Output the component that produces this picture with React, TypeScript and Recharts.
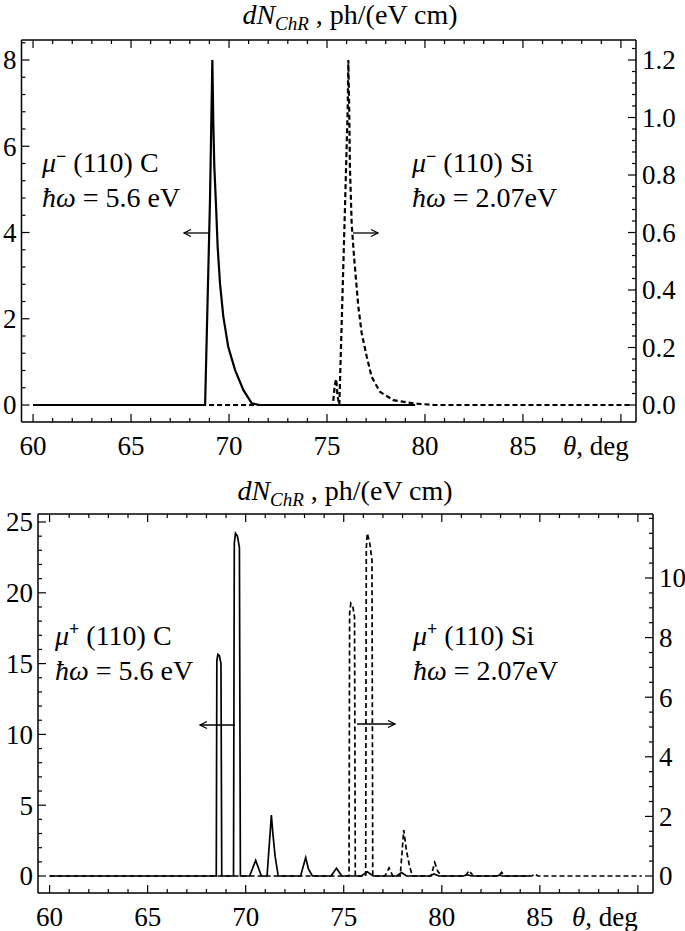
import React from 'react';
import { LineChart, Line, XAxis, YAxis } from 'recharts';

// ─── Data: top panel, mu- (110) ───────────────────────────────────────────────

// C, hw = 5.6 eV (left axis)
const muMinusC_theta = [60, 68.78, 69.03, 69.15, 69.2, 69.25, 69.34, 69.42, 69.54, 69.71, 69.96, 70.31, 70.73, 71.16, 71.58, 79.5];
const muMinusC_dN = [0, 0, 4.76, 8.0, 6.54, 5.53, 4.6, 3.67, 2.82, 2.05, 1.35, 0.81, 0.35, 0.04, 0, 0];

// Si, hw = 2.07 eV (right axis)
const muMinusSi_theta = [60, 75.3, 75.4, 75.47, 75.54, 75.6, 75.63, 75.92, 76.06, 76.09, 76.14, 76.17, 76.26, 76.38, 76.6, 76.77, 77.03, 77.28, 77.7, 78.38, 79.5, 80.5, 90.5];
const muMinusSi_dN = [0, 0, 0.07, 0.09, 0.03, 0.01, 0, 0.69, 1.04, 1.2, 1.0, 0.83, 0.63, 0.516, 0.342, 0.25, 0.168, 0.098, 0.046, 0.017, 0.005, 0, 0];

// ─── Data: bottom panel, mu+ (110) ────────────────────────────────────────────

const muPlusC_theta = [
    60, 68.5, 68.53, 68.58, 68.66, 68.74, 68.78, 69.38, 69.42, 69.48, 69.58, 69.68, 69.73,
    70.2, 70.51, 70.8, 71.09, 71.31, 71.38, 71.5, 71.66, 72.8, 73.06, 73.2, 73.4, 74.35, 74.63, 74.9,
    75.9, 76.2, 76.5, 77.7, 77.95, 78.2, 79.4, 79.6, 79.85, 81.1, 81.3, 81.5, 82.8, 82.95, 83.1, 84.5,
];
const muPlusC_dN = [
    0, 0, 15.2, 15.65, 15.55, 15.0, 0, 0, 23.5, 24.2, 24.0, 23.2, 0,
    0, 1.1, 0, 0, 4.3, 3.1, 1.4, 0, 0, 1.3, 0.5, 0, 0, 0.55, 0,
    0, 0.3, 0, 0, 0.25, 0, 0, 0.15, 0, 0, 0.1, 0, 0, 0.06, 0, 0,
];

const muPlusSi_theta = [
    60, 75.27, 75.3, 75.36, 75.46, 75.55, 75.59, 76.12, 76.15, 76.2, 76.32, 76.44, 76.48,
    77.1, 77.31, 77.5, 77.88, 78.06, 78.2, 78.35, 78.5, 79.45, 79.64, 79.8, 80.0,
    81.2, 81.39, 81.6, 82.9, 83.05, 83.2, 84.6, 84.74, 84.9, 90.2,
];
const muPlusSi_dN = [
    0, 0, 8.8, 9.15, 9.05, 8.7, 0, 0, 11.0, 11.5, 11.2, 10.6, 0,
    0, 0.27, 0, 0, 1.54, 0.85, 0.35, 0, 0, 0.45, 0.15, 0,
    0, 0.18, 0, 0, 0.12, 0, 0, 0.07, 0, 0,
];

// ─── Axes ─────────────────────────────────────────────────────────────────────

const thetaDomain: [number, number] = [59.41, 90.77];
const thetaLabels = [60, 65, 70, 75, 80, 85];
const thetaMajor = [60, 65, 70, 75, 80, 85, 90];

const topLeftMajor = [0, 2, 4, 6, 8];
const topRightMajor = [0, 0.2, 0.4, 0.6, 0.8, 1.0, 1.2];
const botLeftMajor = [0, 5, 10, 15, 20, 25];
const botRightMajor = [0, 2, 4, 6, 8, 10];

const topLeftDomain: [number, number] = [-0.394, 8.464];
const topRightDomain: [number, number] = [-0.0591, 1.2696];
const botLeftDomain: [number, number] = [-1.2, 25.565];
const botRightDomain: [number, number] = [-0.5705, 12.148];

const steps = (from: number, to: number, step: number) => {
    const out: number[] = [];
    for (let i = 0; from + i * step <= to + 1e-9; i++) out.push(Math.round((from + i * step) * 1000) / 1000);
    return out;
};

const zip = (t: number[], v: number[]) => t.map((x, i) => ({ theta: x, v: v[i] }));

const FONT = 'Liberation Serif';
const serif: React.CSSProperties = { fontFamily: FONT };
const isIn = (arr: number[], v: number) => arr.some((m) => Math.abs(m - v) < 1e-6);

// ─── Tick renderers (Mathematica-style inward ticks) ──────────────────────────

const bottomTick = (p: any) => {
    const v = p.payload.value;
    const major = isIn(thetaMajor, v);
    return (
        <g>
            <line x1={p.x} x2={p.x} y1={p.y} y2={p.y - (major ? 8 : 4)} stroke="#000" strokeWidth={1.2} />
            {isIn(thetaLabels, v) && (
                <text x={p.x} y={p.y + 33} textAnchor="middle" fontSize={27} style={serif} fill="#000">
                    {v}
                </text>
            )}
        </g>
    );
};

const topTick = (p: any) => {
    const major = isIn(thetaMajor, p.payload.value);
    return <line x1={p.x} x2={p.x} y1={p.y} y2={p.y + (major ? 8 : 4)} stroke="#000" strokeWidth={1.2} />;
};

const leftTick = (majors: number[], fmt: (v: number) => string) => (p: any) => {
    const v = p.payload.value;
    const major = isIn(majors, v);
    return (
        <g>
            <line x1={p.x} x2={p.x + (major ? 8 : 4)} y1={p.y} y2={p.y} stroke="#000" strokeWidth={1.2} />
            {major && (
                <text x={p.x - 5} y={p.y} dy="0.35em" textAnchor="end" fontSize={27} style={serif} fill="#000">
                    {fmt(v)}
                </text>
            )}
        </g>
    );
};

const rightTick = (majors: number[], fmt: (v: number) => string) => (p: any) => {
    const v = p.payload.value;
    const major = isIn(majors, v);
    return (
        <g>
            <line x1={p.x} x2={p.x - (major ? 8 : 4)} y1={p.y} y2={p.y} stroke="#000" strokeWidth={1.2} />
            {major && (
                <text x={p.x + 6} y={p.y} dy="0.35em" textAnchor="start" fontSize={27} style={serif} fill="#000">
                    {fmt(v)}
                </text>
            )}
        </g>
    );
};

const axisLine = { stroke: '#000', strokeWidth: 1.5 };

// ─── Panel ────────────────────────────────────────────────────────────────────

interface PanelProps {
    top: number;
    height: number;
    topH: number;
    bottomH: number;
    leftW: number;
    rightW: number;
    leftDomain: [number, number];
    rightDomain: [number, number];
    leftTicks: number[];
    rightTicks: number[];
    leftMajor: number[];
    rightMajor: number[];
    rightFmt: (v: number) => string;
    cData: { theta: number; v: number }[];
    siData: { theta: number; v: number }[];
    width: number;
}

const Panel: React.FC<PanelProps> = (p) => (
    <div style={{ position: 'absolute', left: 0, top: p.top }}>
        <LineChart width={685} height={p.height} margin={{ top: 0, right: 0, bottom: 0, left: 0 }}>
            <XAxis
                xAxisId="b"
                dataKey="theta"
                type="number"
                domain={thetaDomain}
                allowDataOverflow
                ticks={steps(60, 90, 1)}
                interval={0}
                tickSize={0}
                tickMargin={0}
                tick={bottomTick}
                axisLine={axisLine}
                tickLine={false}
                height={p.bottomH}
            />
            <XAxis
                xAxisId="t"
                orientation="top"
                dataKey="theta"
                type="number"
                domain={thetaDomain}
                allowDataOverflow
                ticks={steps(60, 90, 1)}
                interval={0}
                tickSize={0}
                tickMargin={0}
                tick={topTick}
                axisLine={axisLine}
                tickLine={false}
                height={p.topH}
            />
            <YAxis
                yAxisId="l"
                type="number"
                domain={p.leftDomain}
                allowDataOverflow
                ticks={p.leftTicks}
                interval={0}
                tickSize={0}
                tickMargin={0}
                tick={leftTick(p.leftMajor, (v) => String(v))}
                axisLine={axisLine}
                tickLine={false}
                width={p.leftW}
            />
            <YAxis
                yAxisId="r"
                orientation="right"
                type="number"
                domain={p.rightDomain}
                allowDataOverflow
                ticks={p.rightTicks}
                interval={0}
                tickSize={0}
                tickMargin={0}
                tick={rightTick(p.rightMajor, p.rightFmt)}
                axisLine={axisLine}
                tickLine={false}
                width={p.rightW}
            />
            <Line
                data={p.siData}
                dataKey="v"
                xAxisId="b"
                yAxisId="r"
                type="linear"
                stroke="#000"
                strokeWidth={p.width}
                strokeDasharray="5 3"
                dot={false}
                isAnimationActive={false}
            />
            <Line
                data={p.cData}
                dataKey="v"
                xAxisId="b"
                yAxisId="l"
                type="linear"
                stroke="#000"
                strokeWidth={p.width}
                dot={false}
                isAnimationActive={false}
            />
        </LineChart>
    </div>
);

// ─── Labels ───────────────────────────────────────────────────────────────────

const Title: React.FC<{ x: number; y: number }> = ({ x, y }) => (
    <text x={x} y={y} textAnchor="middle" fontSize={28} style={serif}>
        <tspan fontStyle="italic">dN</tspan>
        <tspan fontStyle="italic" fontSize={19} dy={6}>ChR</tspan>
        <tspan dy={-6}> , ph/(eV cm)</tspan>
    </text>
);

const Label: React.FC<{ x: number; y: number; sign: string; target: string; energy: string }> = ({ x, y, sign, target, energy }) => (
    <g fontSize={28} style={serif}>
        <text x={x} y={y} style={serif}>
            <tspan fontStyle="italic">μ</tspan>
            <tspan fontSize={18} fontWeight="bold" dy={-10}>{sign}</tspan>
            <tspan dy={10}> (110) {target}</tspan>
        </text>
        <text x={x} y={y + 35} style={serif}>
            <tspan fontStyle="italic">ħω</tspan>
            <tspan> = {energy}</tspan>
        </text>
    </g>
);

const Arrow: React.FC<{ x1: number; x2: number; y: number }> = ({ x1, x2, y }) => {
    const d = x2 > x1 ? -1 : 1;
    return (
        <g stroke="#000" strokeWidth={1.3} fill="none">
            <line x1={x1} x2={x2} y1={y} y2={y} />
            <polyline points={`${x2 + d * 7},${y - 3.5} ${x2},${y} ${x2 + d * 7},${y + 3.5}`} />
        </g>
    );
};

export default function App() {
    return (
        <div style={{ position: 'absolute', left: 0, top: 0, width: 685, height: 931, background: '#fff' }}>
            <Panel
                top={0}
                height={470}
                topH={40}
                bottomH={48}
                leftW={21.5}
                rightW={49}
                leftDomain={topLeftDomain}
                rightDomain={topRightDomain}
                leftTicks={steps(0, 8.4, 0.4)}
                rightTicks={steps(0, 1.24, 0.04)}
                leftMajor={topLeftMajor}
                rightMajor={topRightMajor}
                rightFmt={(v) => v.toFixed(1)}
                cData={zip(muMinusC_theta, muMinusC_dN)}
                siData={zip(muMinusSi_theta, muMinusSi_dN)}
                width={2.2}
            />
            <Panel
                top={470}
                height={461}
                topH={44}
                bottomH={38}
                leftW={38}
                rightW={32}
                leftDomain={botLeftDomain}
                rightDomain={botRightDomain}
                leftTicks={steps(0, 25, 1)}
                rightTicks={steps(0, 12, 0.5)}
                leftMajor={botLeftMajor}
                rightMajor={botRightMajor}
                rightFmt={(v) => String(v)}
                cData={zip(muPlusC_theta, muPlusC_dN)}
                siData={zip(muPlusSi_theta, muPlusSi_dN)}
                width={1.7}
            />
            <svg width={685} height={931} style={{ position: 'absolute', left: 0, top: 0, pointerEvents: 'none' }}>
                <Title x={350} y={24} />
                <Title x={345} y={500} />
                <text x={563} y={455} fontSize={27} style={serif}>
                    <tspan fontStyle="italic">θ</tspan>, deg
                </text>
                <text x={572} y={926} fontSize={27} style={serif}>
                    <tspan fontStyle="italic">θ</tspan>, deg
                </text>
                <Label x={42} y={172} sign="−" target="C" energy="5.6 eV" />
                <Label x={412} y={172} sign="−" target="Si" energy="2.07eV" />
                <Label x={55} y={645} sign="+" target="C" energy="5.6 eV" />
                <Label x={413} y={645} sign="+" target="Si" energy="2.07eV" />
                <Arrow x1={210} x2={184} y={233} />
                <Arrow x1={353} x2={378} y={233} />
                <Arrow x1={235} x2={200} y={725} />
                <Arrow x1={357} x2={395} y={724} />
            </svg>
        </div>
    );
}
